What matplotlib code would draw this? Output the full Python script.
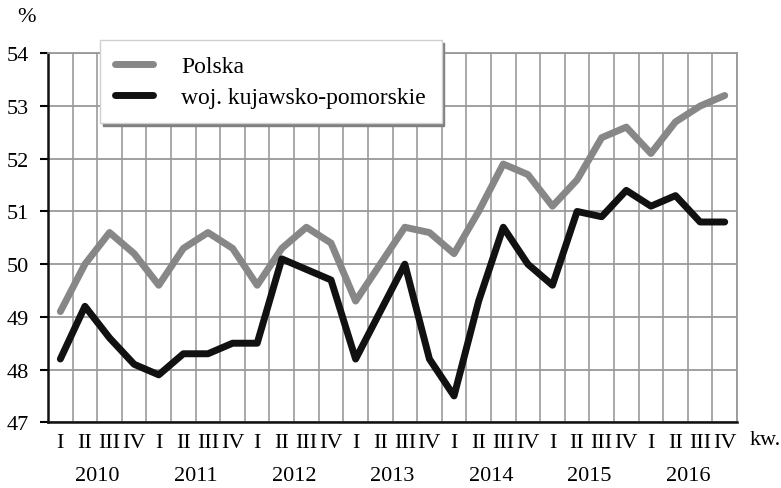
import numpy as np
import matplotlib
matplotlib.use('Agg')
import matplotlib.pyplot as plt
from matplotlib.transforms import blended_transform_factory

# ----------------------------------------------------------------------
# Data: quarterly values 2010 Q1 - 2016 Q4 (%)
# ----------------------------------------------------------------------
years = ['2010', '2011', '2012', '2013', '2014', '2015', '2016']
quarters = ['I', 'II', 'III', 'IV']

polska = [49.1, 50.0, 50.6, 50.2, 49.6, 50.3, 50.6, 50.3,
          49.6, 50.3, 50.7, 50.4, 49.3, 50.0, 50.7, 50.6,
          50.2, 51.0, 51.9, 51.7, 51.1, 51.6, 52.4, 52.6,
          52.1, 52.7, 53.0, 53.2]
kujawsko = [48.2, 49.2, 48.6, 48.1, 47.9, 48.3, 48.3, 48.5,
            48.5, 50.1, 49.9, 49.7, 48.2, 49.1, 50.0, 48.2,
            47.5, 49.3, 50.7, 50.0, 49.6, 51.0, 50.9, 51.4,
            51.1, 51.3, 50.8, 50.8]

labels = ['Polska', 'woj. kujawsko-pomorskie']

plt.rcParams['font.family'] = ['Liberation Serif', 'DejaVu Serif']

fig = plt.figure(figsize=(7.81, 4.89), dpi=100)
ax = fig.add_axes([0.0615, 0.1344, 0.8822, 0.7545])

x = np.arange(len(polska))
ax.plot(x, polska, color='#878787', lw=5, solid_capstyle='round',
        solid_joinstyle='round', label=labels[0], zorder=3)
ax.plot(x, kujawsko, color='#111111', lw=5, solid_capstyle='round',
        solid_joinstyle='round', label=labels[1], zorder=3)

ax.set_xlim(-0.5, len(x) - 0.5)
ax.set_ylim(47, 54)
ax.set_yticks(np.arange(47, 55, 1))

# quarter labels at column centres, grid lines at the column borders
ax.set_xticks(x)
ax.set_xticklabels(quarters * len(years))
ax.set_xticks(np.arange(-0.5, len(x)), minor=True)
ax.tick_params(axis='x', which='both', length=0, labelsize=16, pad=8)
ax.tick_params(axis='y', length=6, width=1.5, direction='out',
               labelsize=16, pad=8)

ax.grid(True, which='minor', axis='x', color='#a3a3a3', lw=1.3, zorder=1)
ax.grid(True, which='major', axis='y', color='#999999', lw=1.3, zorder=1)
ax.set_axisbelow(True)

for side in ['top', 'right']:
    ax.spines[side].set_color('#999999')
    ax.spines[side].set_linewidth(1.3)
for side in ['left', 'bottom']:
    ax.spines[side].set_linewidth(1.8)
    ax.spines[side].set_color('#111111')

# year labels under each group of four quarters
trans = blended_transform_factory(ax.transData, ax.transAxes)
for i, yr in enumerate(years):
    ax.text(4 * i + 1.5, -0.145, yr, transform=trans, ha='center',
            va='center', fontsize=16)

fig.text(765 / 781, 1 - 441 / 489, 'kw.', ha='center', va='center', fontsize=16)
fig.text(27 / 781, 1 - 18 / 489, '%', ha='center', va='center', fontsize=16)

leg = ax.legend(loc='upper left', bbox_to_anchor=(100 / 781, 1 - 41 / 489),
                bbox_transform=fig.transFigure, borderaxespad=0,
                fontsize=17, handlelength=1.6, handletextpad=1.2,
                borderpad=0.65, labelspacing=0.4, fancybox=False,
                framealpha=1, edgecolor='#d0d0d0',
                shadow={'color': '#808080', 'alpha': 1})
leg.get_frame().set_linewidth(1.0)
leg.set_zorder(5)

fig.savefig('out.png', dpi=100)
